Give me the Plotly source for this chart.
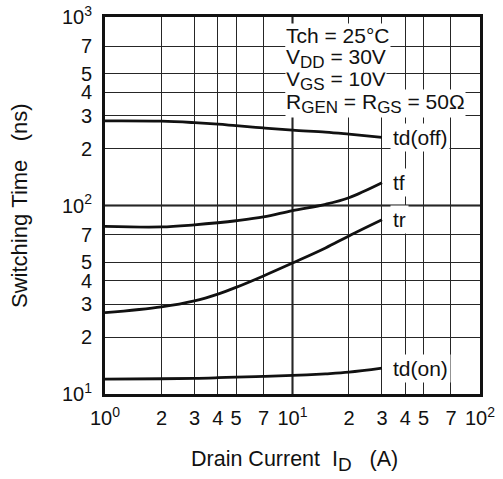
import plotly.graph_objects as go
import math

# Data
drain_current = [1, 2, 3, 4, 5, 7, 10, 15, 20, 30]
td_off = [281, 280, 275, 270, 265, 258, 251, 245, 239, 230]
tf = [77.5, 77, 79, 81, 83, 87, 94, 101.5, 110, 132]
tr = [27, 29, 31.2, 33.9, 36.8, 42.3, 49.5, 59.5, 69, 84]
td_on = [12.0, 12.05, 12.1, 12.2, 12.3, 12.4, 12.55, 12.8, 13.05, 13.7]

series = [("td(off)", td_off), ("tf", tf), ("tr", tr), ("td(on)", td_on)]

x_tickvals = [1, 2, 3, 4, 5, 7, 10, 20, 30, 40, 50, 70, 100]
x_ticktext = ["10<sup>0</sup>", "2", "3", "4", "5", "7", "10<sup>1</sup>",
              "2", "3", "4", "5", "7", "10<sup>2</sup>"]
y_tickvals = [10, 20, 30, 40, 50, 70, 100, 200, 300, 400, 500, 700, 1000]
y_ticktext = ["10<sup>1</sup>", "2", "3", "4", "5", "7", "10<sup>2</sup>",
              "2", "3", "4", "5", "7", "10<sup>3</sup>"]


def sub(s):
    return '<sub><span style="font-size:17px">' + s + '</span></sub>'


conditions = ["Tch = 25°C", "V" + sub("DD") + " = 30V", "V" + sub("GS") + " = 10V",
              "R" + sub("GEN") + " = R" + sub("GS") + " = 50Ω"]

FONT = "Liberation Sans, Arial, sans-serif"
INK = "#111111"

fig = go.Figure()
for name, vals in series:
    fig.add_trace(go.Scatter(x=drain_current, y=vals, mode="lines", name=name,
                             line=dict(color=INK, width=2.8, shape="spline", smoothing=1.0),
                             showlegend=False, hoverinfo="skip"))

annotations = []
for name, vals in series:
    annotations.append(dict(x=math.log10(drain_current[-1]), y=math.log10(vals[-1]),
                            xref="x", yref="y", text=name, showarrow=False,
                            xanchor="left", yanchor="middle", xshift=8,
                            bgcolor="white", borderpad=2,
                            font=dict(family=FONT, size=21, color=INK)))

cond_y = [0.952, 0.891, 0.831, 0.770]
# bottom line first so that each upper line's subscripts stay on top
for t, yy in reversed(list(zip(conditions, cond_y))):
    annotations.append(dict(x=0.48, y=yy, xref="paper", yref="paper", text=t,
                            showarrow=False, xanchor="left", yanchor="middle",
                            bgcolor="white", borderpad=0,
                            font=dict(family=FONT, size=21, color=INK)))

annotations.append(dict(x=0.505, y=-0.178, xref="paper", yref="paper",
                        text="Drain Current\u00a0\u00a0I" + '<sub><span style="font-size:19px">D</span></sub>'
                             + "\u00a0\u00a0\u00a0(A)",
                        showarrow=False, xanchor="center", yanchor="middle",
                        font=dict(family=FONT, size=21.5, color=INK)))
annotations.append(dict(x=-0.228, y=0.5, xref="paper", yref="paper",
                        text="Switching\u00a0Time\u00a0\u00a0\u00a0(ns)", textangle=-90,
                        showarrow=False, xanchor="center", yanchor="middle",
                        font=dict(family=FONT, size=22, color=INK)))

axis_common = dict(type="log", tickmode="array", showgrid=True, gridcolor="#262626",
                   gridwidth=1.2, showline=True, linecolor=INK, linewidth=3, mirror=True,
                   ticks="outside", tickcolor="rgba(0,0,0,0)", zeroline=False,
                   automargin=False, tickfont=dict(family=FONT, size=20, color=INK))

fig.update_layout(
    width=503, height=479,
    margin=dict(l=105, r=23, t=17, b=85),
    paper_bgcolor="white", plot_bgcolor="white",
    font=dict(family=FONT, size=20, color=INK),
    xaxis=dict(axis_common, range=[0, 2], tickvals=x_tickvals, ticktext=x_ticktext,
               ticklen=4, tickangle=0),
    yaxis=dict(axis_common, range=[1, 3], tickvals=y_tickvals, ticktext=y_ticktext,
               ticklen=6),
    shapes=[
        dict(type="line", xref="x", yref="paper", x0=10, x1=10, y0=0, y1=1,
             line=dict(color=INK, width=2), layer="between"),
        dict(type="line", xref="paper", yref="y", x0=0, x1=1, y0=100, y1=100,
             line=dict(color=INK, width=2), layer="between"),
    ],
    annotations=annotations,
)

fig.write_html("out.html")
